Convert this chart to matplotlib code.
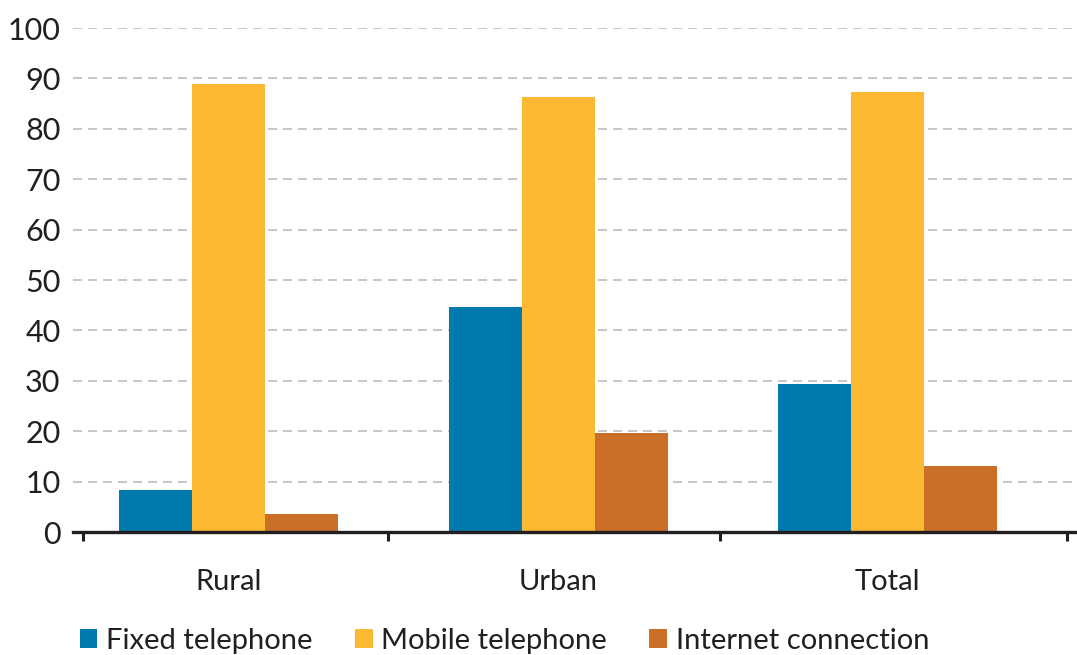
import numpy as np
import matplotlib
matplotlib.use('Agg')
import matplotlib.pyplot as plt
from matplotlib.patches import Patch

categories = ['Rural', 'Urban', 'Total']
series_names = ['Fixed telephone', 'Mobile telephone', 'Internet connection']
fixed_phone = [8.3, 44.6, 29.3]
mobile_phone = [88.8, 86.4, 87.4]
internet = [3.5, 19.7, 13.0]
y_ticks = [0, 10, 20, 30, 40, 50, 60, 70, 80, 90, 100]

colors = ['#0079ad', '#fdb933', '#cb6f28']
text_col = '#231f20'

plt.rcParams['font.family'] = ['Lato', 'DejaVu Sans']

fig = plt.figure(figsize=(10.77, 6.55), dpi=100)
ax = fig.add_axes([73 / 1077, 1 - 532 / 655, 1 - 73 / 1077, (532 - 28) / 655])

x = np.arange(len(categories))
w = 0.2215
for i, vals in enumerate([fixed_phone, mobile_phone, internet]):
    ax.bar(x + (i - 1) * w, vals, width=w, color=colors[i], zorder=2)

ax.set_xlim(-0.472, 2.575)
ax.set_ylim(0, 100)
ax.set_yticks(y_ticks)
ax.set_yticklabels([str(v) for v in y_ticks])
ax.yaxis.grid(True, color='#c8c8c8', linewidth=1.44, linestyle=(0, (4.5, 3)), zorder=0)
ax.set_axisbelow(True)

for s in ['top', 'right', 'left']:
    ax.spines[s].set_visible(False)
ax.spines['bottom'].set_color(text_col)
ax.spines['bottom'].set_linewidth(2.4)
ax.spines['bottom'].set_zorder(3)

ax.tick_params(axis='y', length=0, pad=9, labelsize=22, labelcolor=text_col)
ax.set_xticks(x)
ax.set_xticklabels(categories)
ax.tick_params(axis='x', which='major', length=0, pad=27, labelsize=21, labelcolor=text_col)
ax.set_xticks([-0.442, 0.484, 1.492, 2.545], minor=True)
ax.tick_params(axis='x', which='minor', direction='out', length=6.5, width=2.2, color=text_col)

handles = [Patch(facecolor=c, edgecolor='none') for c in colors]
fig.legend(handles, series_names, loc='center left', bbox_to_anchor=(80 / 1077, 1 - 641 / 655),
           ncol=3, frameon=False, fontsize=21, handlelength=0.6, handleheight=0.65,
           handletextpad=0.3, columnspacing=1.45, borderpad=0, borderaxespad=0,
           labelcolor=text_col)

fig.savefig('out.png', dpi=100)
